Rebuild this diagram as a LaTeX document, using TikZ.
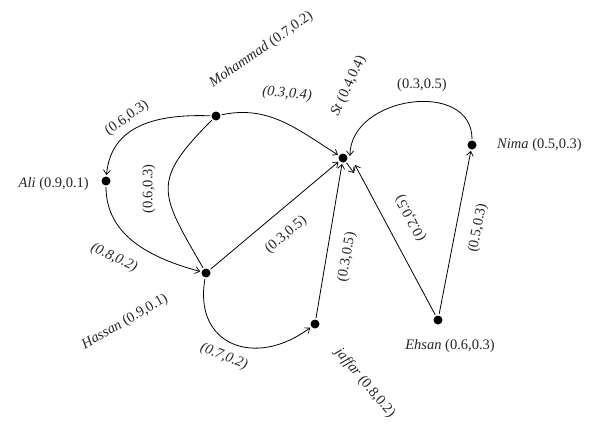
\documentclass[tikz,border=0pt]{standalone}
\usepackage{fontspec}
\setmainfont{Liberation Serif}
\usetikzlibrary{arrows.meta}
\begin{document}
\begin{tikzpicture}[x=1pt,y=1pt,
  dot/.style={circle,fill=black,inner sep=0pt,minimum size=9pt,outer sep=1.5pt},
  edge/.style={line width=0.8pt,-{Straight Barb[length=4.5pt,width=7pt,line width=0.7pt]}},
  plain/.style={line width=0.8pt},
  lbl/.style={font=\fontsize{14.5}{16}\selectfont,inner sep=0pt,text=black!85},
]
\useasboundingbox (0,0) rectangle (597,-426);
% vertices
\node[dot] (M) at (216,-116) {};
\node[dot] (A) at (106,-181) {};
\node[dot] (H) at (206,-273) {};
\node[dot] (S) at (343,-158) {};
\node[dot] (N) at (472,-145) {};
\node[dot] (E) at (438,-320) {};
\node[dot] (J) at (315,-324) {};
\coordinate (tES) at (355,-165);
\coordinate (tSE) at (354,-173);
\coordinate (tNS) at (350,-156);
% connectors
\draw[edge] (M) to[out=178,in=85,looseness=1.1] (A);
\draw[edge] (A) to[out=-90,in=165] (H);
\draw[plain] (M) to[out=225,in=120,looseness=1.5] (H);
\draw[edge] (M) to[out=12,in=148] (S);
\draw[edge] (H) -- (S);
\draw[edge] (H) to[out=-100,in=-143,looseness=1.5] (J);
\draw[edge] (J) -- (S);
\draw[edge] (E) -- (tES);
\draw[edge] (S) -- (tSE);
\draw[edge] (N) to[out=90,in=90,looseness=1.25] (tNS);
\draw[edge] (E) -- (N);
% vertex labels
\node[lbl,anchor=east] (lA) at (89,-184) {\textit{Ali} (0.9,0.1)};
\node[lbl,anchor=west] (lN) at (497,-145) {\textit{Nima} (0.5,0.3)};
\node[lbl] (lE) at (450,-346) {\textit{Ehsan} (0.6,0.3)};
\node[lbl,rotate=30] (lH) at (125,-322) {\textit{Hassan} (0.9,0.1)};
\node[lbl,rotate=-50] (lJ) at (365,-383) {\textit{jaffar} (0.8,0.2)};
\node[lbl,rotate=35,anchor=base west] (lM) at (213,-88) {\textit{Mohammad} (0.7,0.2)};
\node[lbl,rotate=65,anchor=base west] (lS) at (338,-117) {\textit{St} (0.4,0.4)};
% edge labels
\node[lbl,rotate=35] (eMA) at (127,-118) {(0.6,0.3)};
\node[lbl,rotate=90] (eMH) at (149,-189) {(0.6,0.3)};
\node[lbl,rotate=-25] (eAH) at (114,-258) {\textit{(0.8,0.2)}};
\node[lbl,rotate=-5] (eMS) at (287,-94) {\textit{(0.3,0.4)}};
\node[lbl,rotate=40] (eHS) at (286,-235) {(0.3,0.5)};
\node[lbl,rotate=80] (eJS) at (347,-257) {(0.3,0.5)};
\node[lbl,rotate=-22] (eHJ) at (224,-357) {\textit{(0.7,0.2)}};
\node[lbl,rotate=118] (eES) at (411,-218) {(0.2,0.5)};
\node[lbl,rotate=79] (eEN) at (478,-228) {(0.5,0.3)};
\node[lbl] (eNS) at (422,-85) {(0.3,0.5)};
\end{tikzpicture}
\end{document}
